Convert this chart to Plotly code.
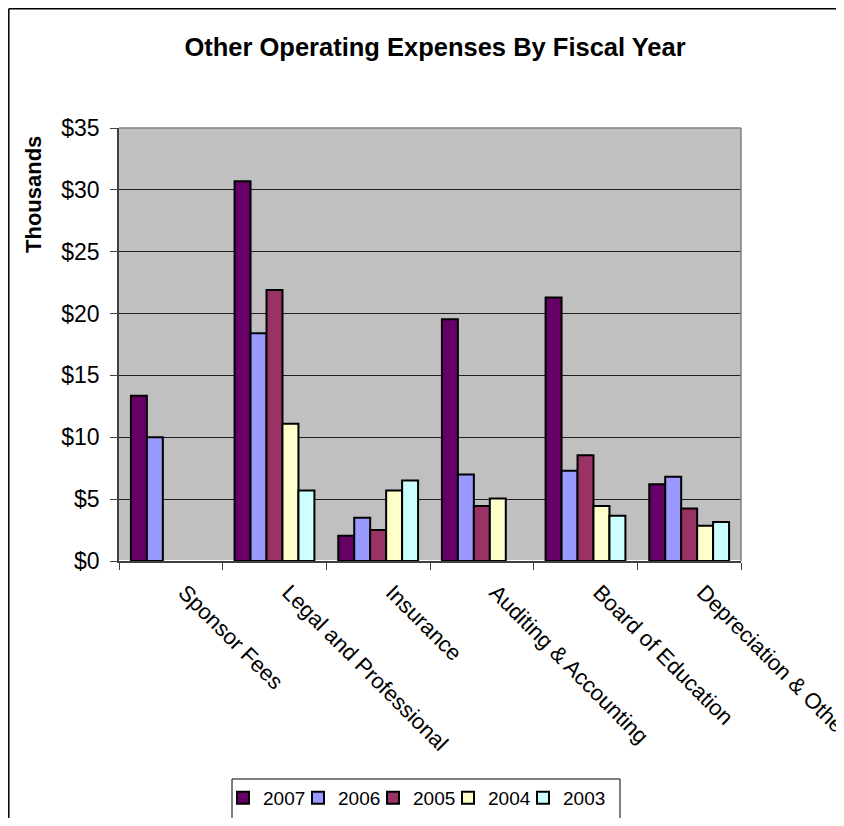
import plotly.graph_objects as go

categories = ["Sponsor Fees", "Legal and Professional", "Insurance",
              "Auditing & Accounting", "Board of Education", "Depreciation & Other"]
years = ["2007", "2006", "2005", "2004", "2003"]
v2007 = [13.35, 30.7, 2.05, 19.55, 21.3, 6.2]
v2006 = [10.0, 18.4, 3.5, 7.0, 7.3, 6.8]
v2005 = [None, 21.9, 2.5, 4.45, 8.55, 4.25]
v2004 = [None, 11.1, 5.7, 5.05, 4.45, 2.85]
v2003 = [None, 5.7, 6.5, None, 3.65, 3.15]
series = [v2007, v2006, v2005, v2004, v2003]
colors = ["#660066", "#9999FF", "#993366", "#FFFFCC", "#CCFFFF"]

FONT = "Liberation Sans, Arial, sans-serif"

fig = go.Figure()
for i, (name, vals, col) in enumerate(zip(years, series, colors)):
    fig.add_trace(go.Bar(x=categories, y=vals, name=name,
                         legendwidth=(50 if i == len(years) - 1 else 30),
                         marker=dict(color=col, line=dict(color="black", width=2))))

# page is offset by the 8px body margin
W, H = 828, 810
L, R, T, B = 111, 95, 120, 257
pw, ph = W - L - R, H - T - B

def px(x):
    return (x - L) / pw

def py(y):
    return (H - B - y) / ph

fig.update_layout(
    width=W, height=H,
    margin=dict(l=L, r=R, t=T, b=B, autoexpand=False),
    paper_bgcolor="white", plot_bgcolor="#C0C0C0",
    barmode="group", bargap=0.23, bargroupgap=0,
    font=dict(family=FONT, color="black"),
    title=dict(text="<b>Other Operating Expenses By Fiscal Year</b>",
               x=427 / W, xanchor="center", y=1 - 39 / H, yanchor="middle",
               font=dict(size=25.5, family=FONT)),
    showlegend=True,
    legend=dict(orientation="h", x=px(215), xanchor="left",
                y=py(771), yanchor="top",
                bgcolor="rgba(0,0,0,0)", borderwidth=0,
                font=dict(size=19, family=FONT), traceorder="normal",
                itemwidth=30, entrywidthmode="pixels"),
    xaxis=dict(tickangle=45, tickfont=dict(size=22), ticks="outside",
               tickson="boundaries", ticklen=7, tickcolor="#404040",
               ticklabelshift=14, ticklabelstandoff=8,
               showline=True, linecolor="#404040", linewidth=1.5,
               showgrid=False),
    yaxis=dict(range=[0, 35], dtick=5, tickprefix="$", tickfont=dict(size=23),
               ticks="outside", ticklen=7, tickcolor="#404040",
               ticklabelstandoff=6,
               showline=True, linecolor="#404040", linewidth=1.5,
               showgrid=True, gridcolor="#202020", gridwidth=1),
)

fig.add_annotation(text="<b>Thousands</b>", textangle=-90, xref="paper", yref="paper",
                   x=px(25), y=py(187), xanchor="center", yanchor="middle",
                   showarrow=False, font=dict(size=22, family=FONT))

# plot area top/right grey border
fig.add_shape(type="line", xref="paper", yref="paper", x0=0, x1=1, y0=1, y1=1,
              line=dict(color="#808080", width=1.5))
fig.add_shape(type="line", xref="paper", yref="paper", x0=1, x1=1, y0=0, y1=1,
              line=dict(color="#808080", width=1.5))
# outer chart border (left and top visible)
fig.add_shape(type="line", xref="paper", yref="paper",
              x0=px(0.8), x1=px(0.8), y0=py(H + 10), y1=py(0.8),
              line=dict(color="black", width=1.5))
fig.add_shape(type="line", xref="paper", yref="paper",
              x0=px(0.8), x1=px(W + 10), y0=py(0.8), y1=py(0.8),
              line=dict(color="black", width=1.5))
# legend box
fig.add_shape(type="rect", xref="paper", yref="paper", layer="below",
              x0=px(224), x1=px(612), y0=py(H + 10), y1=py(771),
              fillcolor="white", line=dict(color="black", width=1))

fig.write_html("out.html")
